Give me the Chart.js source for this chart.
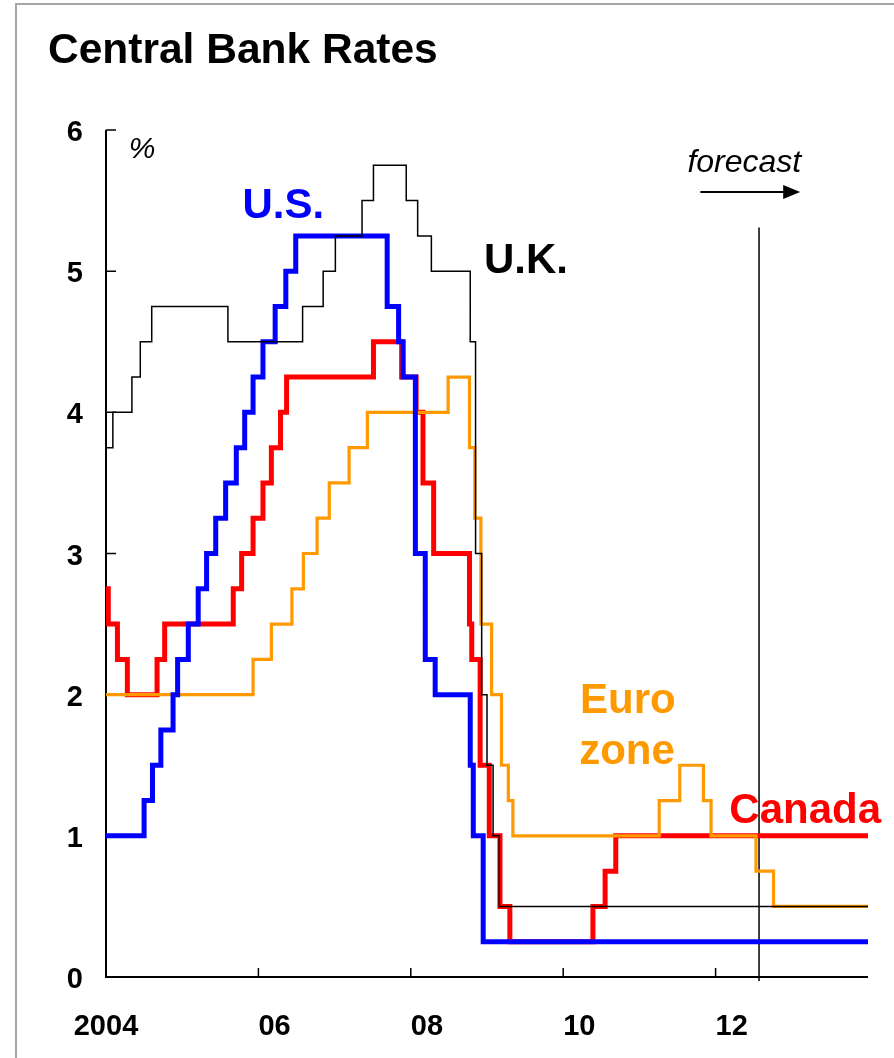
<!DOCTYPE html>
<html>
<head>
<meta charset="utf-8">
<title>Central Bank Rates</title>
<script src="https://cdn.jsdelivr.net/npm/chart.js@4.4.0/dist/chart.umd.min.js"></script>
<style>
  html, body { margin: 0; padding: 0; background: #ffffff; }
  #wrap { position: relative; width: 894px; height: 1058px; }
  canvas { display: block; }
</style>
</head>
<body>
<div id="wrap"><canvas id="rates" width="894" height="1058"></canvas></div>
<script>
// Policy rates in %, each value holds from its date (decimal year) until the next one.
const usDates = [2004.00, 2004.50, 2004.61, 2004.72, 2004.88, 2004.94, 2005.08, 2005.21, 2005.32, 2005.44,
                 2005.57, 2005.71, 2005.82, 2005.93, 2006.06, 2006.22, 2006.36, 2006.49, 2007.69, 2007.84,
                 2007.90, 2008.06, 2008.19, 2008.32, 2008.78, 2008.82, 2008.95, 2014.00];
const usRates = [1.00, 1.25, 1.50, 1.75, 2.00, 2.25, 2.50, 2.75, 3.00, 3.25,
                 3.50, 3.75, 4.00, 4.25, 4.50, 4.75, 5.00, 5.25, 4.75, 4.50,
                 4.25, 3.00, 2.25, 2.00, 1.50, 1.00, 0.25, 0.25];

const canadaDates = [2004.00, 2004.03, 2004.15, 2004.28, 2004.67, 2004.77, 2005.67, 2005.78, 2005.93, 2006.06,
                     2006.17, 2006.29, 2006.37, 2007.51, 2007.88, 2008.07, 2008.16, 2008.30, 2008.77, 2008.80,
                     2008.91, 2009.03, 2009.17, 2009.30, 2010.39, 2010.55, 2010.69, 2014.00];
const canadaRates = [2.75, 2.50, 2.25, 2.00, 2.25, 2.50, 2.75, 3.00, 3.25, 3.50,
                     3.75, 4.00, 4.25, 4.50, 4.25, 4.00, 3.50, 3.00, 2.50, 2.25,
                     1.50, 1.00, 0.50, 0.25, 0.50, 0.75, 1.00, 1.00];

const ukDates = [2004.00, 2004.09, 2004.34, 2004.45, 2004.60, 2005.60, 2006.58, 2006.85, 2007.01, 2007.36,
                 2007.51, 2007.94, 2008.09, 2008.27, 2008.78, 2008.85, 2008.93, 2009.00, 2009.08, 2009.16,
                 2014.00];
const ukRates = [3.75, 4.00, 4.25, 4.50, 4.75, 4.50, 4.75, 5.00, 5.25, 5.50,
                 5.75, 5.50, 5.25, 5.00, 4.50, 3.00, 2.00, 1.50, 1.00, 0.50,
                 0.50];

const euroDates = [2004.00, 2005.93, 2006.17, 2006.44, 2006.59, 2006.77, 2006.93, 2007.19, 2007.43, 2008.49,
                   2008.77, 2008.84, 2008.92, 2009.06, 2009.19, 2009.28, 2009.34, 2011.26, 2011.53, 2011.84,
                   2011.94, 2012.53, 2012.76, 2014.00];
const euroRates = [2.00, 2.25, 2.50, 2.75, 3.00, 3.25, 3.50, 3.75, 4.00, 4.25,
                   3.75, 3.25, 2.50, 2.00, 1.50, 1.25, 1.00, 1.25, 1.50, 1.25,
                   1.00, 0.75, 0.50, 0.50];

// Axis ticks
const yTicks = [0, 1, 2, 3, 4, 5, 6];
const xTickYears = [2004, 2006, 2008, 2010, 2012];
const xTickLabels = ['2004', '06', '08', '10', '12'];

// Start of the forecast period
const forecastStart = 2012.57;

const FONT = '"Liberation Sans", Arial, Helvetica, sans-serif';

function pts(dates, rates) {
  return dates.map((d, i) => ({ x: d, y: rates[i] }));
}

// Frame, axes, tick labels and series annotations
const decorations = {
  id: 'decorations',
  beforeDraw(chart) {
    const ctx = chart.ctx;
    ctx.save();
    ctx.fillStyle = '#ffffff';
    ctx.fillRect(0, 0, chart.width, chart.height);
    ctx.strokeStyle = '#a6a6a6';
    ctx.lineWidth = 2;
    ctx.beginPath();
    ctx.moveTo(16, chart.height + 2);
    ctx.lineTo(16, 4);
    ctx.lineTo(chart.width + 2, 4);
    ctx.stroke();

    ctx.fillStyle = '#000000';
    ctx.font = 'bold 42.5px ' + FONT;
    ctx.textAlign = 'left';
    ctx.textBaseline = 'alphabetic';
    ctx.fillText('Central Bank Rates', 48, 63);
    ctx.restore();
  },
  beforeDatasetsDraw(chart) {
    const { ctx, scales: { x, y } } = chart;
    const x0 = x.getPixelForValue(x.min);
    const x1 = x.getPixelForValue(x.max);
    const y0 = y.getPixelForValue(0);
    const yTop = y.getPixelForValue(6);
    ctx.save();
    ctx.strokeStyle = '#000000';

    // forecast divider
    ctx.lineWidth = 1.5;
    const fx = x.getPixelForValue(forecastStart);
    ctx.beginPath();
    ctx.moveTo(fx, y.getPixelForValue(5.31));
    ctx.lineTo(fx, y0 + 4);
    ctx.stroke();

    // axis lines
    ctx.lineWidth = 2;
    ctx.beginPath();
    ctx.moveTo(x0, yTop);
    ctx.lineTo(x0, y0);
    ctx.lineTo(x1, y0);
    ctx.stroke();

    // inward tick marks
    ctx.lineWidth = 1.5;
    ctx.beginPath();
    yTicks.forEach(v => {
      const py = y.getPixelForValue(v);
      ctx.moveTo(x0, py);
      ctx.lineTo(x0 + 10, py);
    });
    xTickYears.forEach(v => {
      const px = x.getPixelForValue(v);
      ctx.moveTo(px, y0);
      ctx.lineTo(px, y0 - 9);
    });
    ctx.stroke();
    ctx.restore();
  },
  afterDatasetsDraw(chart) {
    const { ctx, scales: { x, y } } = chart;
    const x0 = x.getPixelForValue(x.min);
    const y0 = y.getPixelForValue(0);
    ctx.save();

    // tick labels
    ctx.fillStyle = '#000000';
    ctx.font = 'bold 29px ' + FONT;
    ctx.textBaseline = 'alphabetic';
    ctx.textAlign = 'right';
    yTicks.forEach(v => {
      ctx.fillText(String(v), x0 - 23, y.getPixelForValue(v) + 11);
    });
    xTickYears.forEach((v, i) => {
      const px = x.getPixelForValue(v);
      ctx.textAlign = i === 0 ? 'center' : 'left';
      ctx.fillText(xTickLabels[i], px, y0 + 58);
    });

    // unit
    ctx.textAlign = 'left';
    ctx.font = 'italic 30px ' + FONT;
    ctx.fillText('%', x.getPixelForValue(2004.30), y.getPixelForValue(5.80));

    // forecast marker
    ctx.font = 'italic 32px ' + FONT;
    ctx.fillText('forecast', x.getPixelForValue(2011.63), y.getPixelForValue(5.70));
    const ay = y.getPixelForValue(5.56);
    const ax0 = x.getPixelForValue(2011.80);
    const ax1 = x.getPixelForValue(2013.11);
    ctx.lineWidth = 2;
    ctx.beginPath();
    ctx.moveTo(ax0, ay);
    ctx.lineTo(ax1 - 14, ay);
    ctx.stroke();
    ctx.beginPath();
    ctx.moveTo(ax1, ay);
    ctx.lineTo(ax1 - 17, ay - 7);
    ctx.lineTo(ax1 - 17, ay + 7);
    ctx.closePath();
    ctx.fill();

    // series names
    ctx.font = 'bold 42px ' + FONT;
    const names = [
      ['U.S.', '#0000ff', 2005.79, 5.38],
      ['U.K.', '#000000', 2008.96, 4.99],
      ['Euro', '#ff9900', 2010.22, 1.87],
      ['zone', '#ff9900', 2010.21, 1.51],
      ['Canada', '#ff0000', 2012.18, 1.09]
    ];
    names.forEach(([t, c, vx, vy]) => {
      ctx.fillStyle = c;
      ctx.fillText(t, x.getPixelForValue(vx), y.getPixelForValue(vy));
    });
    ctx.restore();
  }
};

new Chart(document.getElementById('rates'), {
  type: 'line',
  data: {
    datasets: [
      { label: 'U.K.', data: pts(ukDates, ukRates), borderColor: '#000000', borderWidth: 1.5, stepped: true, order: 1 },
      { label: 'U.S.', data: pts(usDates, usRates), borderColor: '#0000ff', borderWidth: 5, stepped: true, order: 2 },
      { label: 'Euro zone', data: pts(euroDates, euroRates), borderColor: '#ff9900', borderWidth: 3.2, stepped: true, order: 3 },
      { label: 'Canada', data: pts(canadaDates, canadaRates), borderColor: '#ff0000', borderWidth: 5, stepped: true, order: 4 }
    ]
  },
  options: {
    responsive: false,
    animation: false,
    layout: { padding: { left: 106, top: 130, right: 26, bottom: 81 } },
    elements: { point: { radius: 0, hoverRadius: 0 }, line: { fill: false, tension: 0 } },
    scales: {
      x: { type: 'linear', min: 2004, max: 2014, display: false },
      y: { type: 'linear', min: 0, max: 6, display: false }
    },
    plugins: {
      legend: { display: false },
      tooltip: { enabled: false },
      title: { display: false }
    },
    events: []
  },
  plugins: [decorations]
});
</script>
</body>
</html>
